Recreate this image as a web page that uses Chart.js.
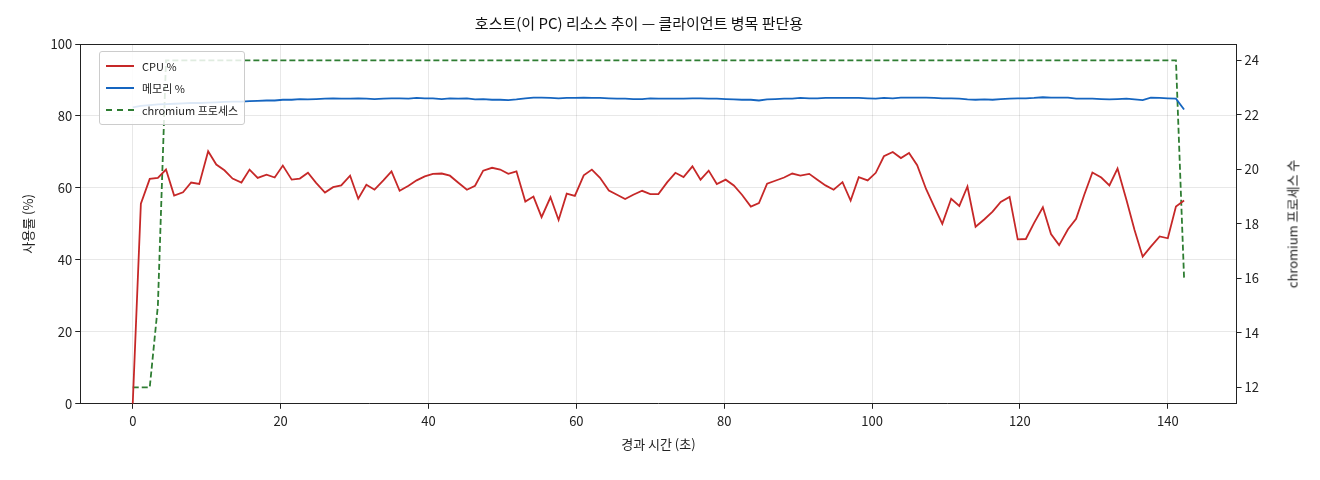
<!DOCTYPE html>
<html><head><meta charset="utf-8">
<script src="https://cdn.jsdelivr.net/npm/chart.js@4/dist/chart.umd.min.js"></script>
<style>
body{margin:0;background:#fff;font-family:"Noto Sans CJK KR","Noto Sans",sans-serif}
#wrap{position:relative;width:1320px;height:480px}
#lg{position:absolute;left:99px;top:51px;background:rgba(255,255,255,0.85);border:1px solid #ccc;border-radius:3px;padding:3px 6px;font-size:11px;color:#222}
#lg div{display:flex;align-items:center;height:22px}
#lg span.l{display:inline-block;width:28px;margin-right:8px;border-top:2px solid}
#rt{position:absolute;left:1292px;top:224px;transform:translate(-50%,-50%) rotate(-90deg);white-space:nowrap;font-size:13px;color:#222}
</style></head><body>
<div id="wrap"><canvas id="c" width="1320" height="480"></canvas>
<div id="lg">
<div><span class="l" style="border-color:#c62828"></span>CPU %</div>
<div><span class="l" style="border-color:#1565c0"></span>메모리 %</div>
<div><span class="l" style="border-color:#2e7d32;border-top-style:dashed"></span>chromium 프로세스</div>
</div>
<div id="rt">chromium 프로세스 수</div></div>
<script>
const elapsed=[0,1.1,2.3,3.4,4.5,5.6,6.8,7.9,9.0,10.2,11.3,12.4,13.5,14.7,15.8,16.9,18.1,19.2,20.3,21.5,22.6,23.7,24.8,26.0,27.1,28.2,29.4,30.5,31.6,32.7,33.9,35.0,36.1,37.3,38.4,39.5,40.6,41.8,42.9,44.0,45.2,46.3,47.4,48.6,49.7,50.8,51.9,53.1,54.2,55.3,56.5,57.6,58.7,59.8,61.0,62.1,63.2,64.4,65.5,66.6,67.7,68.9,70.0,71.1,72.3,73.4,74.5,75.7,76.8,77.9,79.0,80.2,81.3,82.4,83.6,84.7,85.8,86.9,88.1,89.2,90.3,91.5,92.6,93.7,94.8,96.0,97.1,98.2,99.4,100.5,101.6,102.8,103.9,105.0,106.1,107.3,108.4,109.5,110.7,111.8,112.9,114.0,115.2,116.3,117.4,118.6,119.7,120.8,121.9,123.1,124.2,125.3,126.5,127.6,128.7,129.8,131.0,132.1,133.2,134.4,135.5,136.6,137.7,138.9,140.0,141.1,142.2];
const cpu=[0,55.6,62.5,62.8,65.1,57.9,58.8,61.5,61.1,70.2,66.5,64.9,62.6,61.5,65.1,62.8,63.7,62.9,66.2,62.3,62.6,64.2,61.4,58.7,60.2,60.7,63.4,57.0,60.9,59.5,62.1,64.6,59.2,60.6,62.1,63.2,63.9,64.0,63.4,61.5,59.5,60.6,64.8,65.6,65.1,63.9,
64.6,56.2,57.6,51.9,57.4,51.1,58.4,57.8,63.5,65.1,62.8,59.3,58.1,56.9,58.1,59.2,58.3,58.3,61.6,64.2,63.0,66.0,62.3,64.8,61.1,62.3,60.7,58.1,54.8,55.8,61.2,62.0,62.9,64.0,63.4,63.9,62.3,60.7,59.5,61.6,56.5,63.0,
62.1,64.2,68.8,70.0,68.3,69.7,66.3,59.7,54.8,50.0,57.0,55.0,60.4,49.2,51.3,53.4,56.1,57.5,45.7,45.8,50.2,54.6,47.2,44.1,48.5,51.4,58.1,64.3,62.9,60.7,65.4,56.7,48.3,40.9,43.7,46.5,46.0,54.8,56.5];
const memory=[82.4,82.8,83.0,83.2,83.3,83.4,83.5,83.6,83.6,83.7,
83.8,83.9,84.0,84.0,84.1,84.2,84.3,84.3,84.5,84.5,
84.7,84.6,84.7,84.8,84.9,84.8,84.8,84.9,84.8,84.7,
84.8,84.9,84.9,84.8,85.0,84.9,84.9,84.7,84.9,84.8,
84.9,84.6,84.7,84.5,84.5,84.4,84.6,84.9,85.1,85.1,
85.0,84.9,85.0,85.0,85.1,85.0,85.0,84.9,84.8,84.8,
84.7,84.7,84.9,84.8,84.8,84.8,84.8,84.9,84.9,84.8,
84.8,84.7,84.6,84.5,84.5,84.3,84.6,84.7,84.8,84.8,
85.0,84.9,84.9,85.0,85.0,85.0,85.0,85.0,84.9,84.8,
85.0,84.9,85.1,85.1,85.1,85.1,85.0,84.9,84.9,84.8,
84.6,84.5,84.6,84.5,84.7,84.8,84.9,84.9,85.0,85.2,
85.1,85.1,85.1,84.8,84.8,84.8,84.7,84.6,84.7,84.8,
84.6,84.4,85.1,85.0,84.9,84.8,81.8];
const chromium=[12,12,12,15,24,24,24,24,24,24,24,24,24,24,24,24,24,24,24,24,24,24,24,24,24,24,24,24,24,24,24,24,24,24,24,24,24,24,24,24,24,24,24,24,24,24,24,24,24,24,24,24,24,24,24,24,24,24,24,24,24,24,24,24,24,24,24,24,24,24,24,24,24,24,24,24,24,24,24,24,24,24,24,24,24,24,24,24,24,24,24,24,24,24,24,24,24,24,24,24,24,24,24,24,24,24,24,24,24,24,24,24,24,24,24,24,24,24,24,24,24,24,24,24,24,24,16];
const xTicks=[0,20,40,60,80,100,120,140];
const pts=a=>elapsed.map((t,i)=>({x:t,y:a[i]}));
const F='"Noto Sans CJK KR","Noto Sans",sans-serif';
Chart.defaults.font.family=F;Chart.defaults.color='#222';
new Chart(document.getElementById('c'),{type:'line',
data:{datasets:[
{label:'CPU %',data:pts(cpu),borderColor:'#c62828',borderWidth:1.8,pointRadius:0,yAxisID:'y',tension:0},
{label:'메모리 %',data:pts(memory),borderColor:'#1565c0',borderWidth:1.8,pointRadius:0,yAxisID:'y',tension:0},
{label:'chromium 프로세스',data:pts(chromium),borderColor:'#2e7d32',borderWidth:1.8,borderDash:[6,3],pointRadius:0,yAxisID:'y1',tension:0}]},
options:{responsive:false,animation:false,devicePixelRatio:1,
layout:{padding:{left:16,right:58,top:10,bottom:24}},
plugins:{legend:{display:false},tooltip:{enabled:false},
title:{display:true,text:'호스트(이 PC) 리소스 추이 — 클라이언트 병목 판단용',font:{size:15,weight:'normal'},color:'#111',padding:{top:4,bottom:12}}},
scales:{
x:{type:'linear',min:-7.1,max:149.3,afterBuildTicks:s=>{s.ticks=xTicks.map(v=>({value:v}));},
grid:{color:'rgba(0,0,0,0.09)',drawTicks:true,tickColor:'#222',tickLength:5},border:{color:'#222'},
ticks:{font:{size:13},padding:4},title:{display:true,text:'경과 시간 (초)',font:{size:13},padding:{top:4}}},
y:{position:'left',min:0,max:100,ticks:{stepSize:20,font:{size:13}},grid:{color:'rgba(0,0,0,0.09)',tickColor:'#222',tickLength:5},border:{color:'#222'},
title:{display:true,text:'사용률 (%)',font:{size:13},padding:{bottom:12}}},
y1:{position:'right',min:11.4,max:24.6,afterBuildTicks:s=>{s.ticks=[12,14,16,18,20,22,24].map(v=>({value:v}));},
ticks:{font:{size:13}},grid:{drawOnChartArea:false,tickColor:'#222',tickLength:5},border:{color:'#222'},
title:{display:false}}}},
plugins:[{id:'frame',afterDraw(c){const a=c.chartArea,x=c.ctx;x.save();x.strokeStyle='#222';x.lineWidth=1;x.beginPath();x.moveTo(a.left,a.top+0.5);x.lineTo(a.right,a.top+0.5);x.stroke();x.restore();}}]
});
</script></body></html>
